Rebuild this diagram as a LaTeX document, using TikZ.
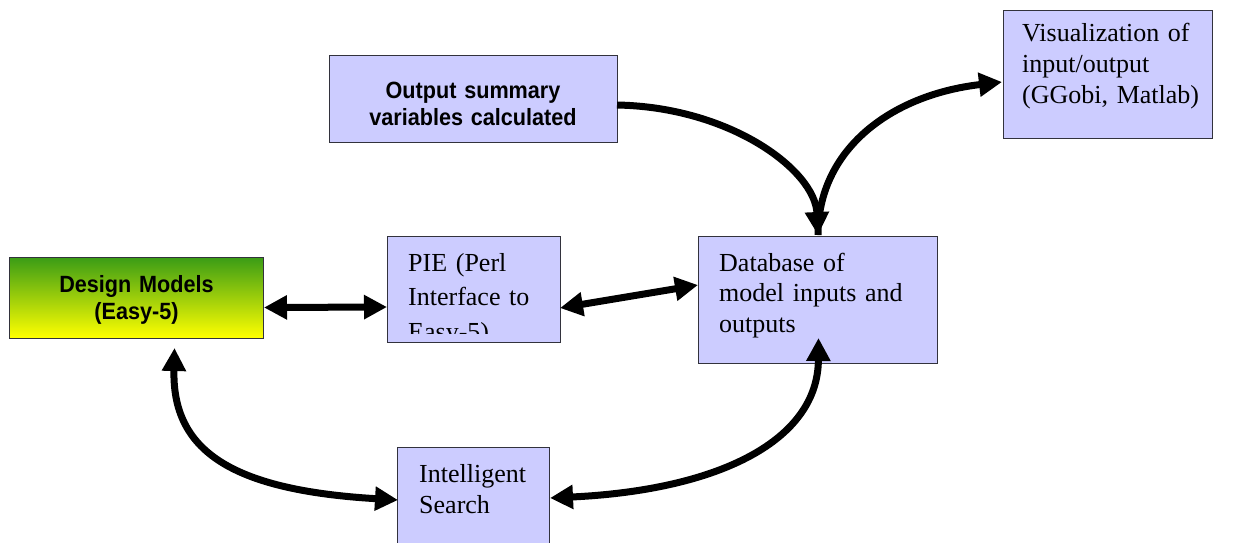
\documentclass[tikz,border=0pt]{standalone}
\usepackage{fontspec}
\setmainfont{Liberation Serif}
\newfontfamily\labsans[FakeStretch=0.92]{Liberation Sans}
\usetikzlibrary{arrows.meta}
\definecolor{boxfill}{RGB}{204,204,255}
\definecolor{boxline}{RGB}{50,50,60}
\definecolor{dmtop}{RGB}{58,156,22}
\definecolor{dmmid}{RGB}{190,218,0}
\definecolor{dmbot}{RGB}{255,255,0}
\begin{document}
\begin{tikzpicture}[x=1pt,y=-1pt,
  box/.style={rectangle,draw=boxline,line width=1pt,fill=boxfill,inner sep=0pt,outer sep=0pt,anchor=north west},
  seriftext/.style={inner sep=0pt,anchor=base west,align=left,text width=#1},
  sanstext/.style={inner sep=0pt,anchor=base,align=center,text width=250pt,font=\labsans\bfseries\fontsize{23.5}{27}\selectfont},
  >={Triangle[length=23pt,width=23pt]},
  conn/.style={line width=7pt,->},
  biconn/.style={line width=7pt,<->}]
\clip (0,0) rectangle (1246,542);
\fill[white] (0,0) rectangle (1246,542);

% boxes
\node[box,minimum width=288pt,minimum height=87pt] (outsum) at (329,55) {};
\node[sanstext] (outsumtext) at (473,98) {Output summary\\variables calculated};

\node[box,minimum width=209pt,minimum height=128pt] (vis) at (1003,10) {};
\node[seriftext=185pt,font=\fontsize{26}{31}\selectfont] (vistext) at (1022,41.5) {Visualization of\\input/output\\(GGobi, Matlab)};

\node[box,top color=dmtop,middle color=dmmid,bottom color=dmbot,minimum width=254pt,minimum height=81pt] (dm) at (9,257) {};
\node[sanstext] (dmtext) at (136.5,292) {Design Models\\(Easy-5)};

\node[box,minimum width=173pt,minimum height=106pt] (pie) at (387,236) {};
\begin{scope}
  \clip (pie.north west) rectangle ([yshift=9pt]pie.south east);
  \node[seriftext=150pt,font=\fontsize{26}{34.5}\selectfont] (pietext) at (408,271) {PIE (Perl\\Interface to\\Easy-5)};
\end{scope}

\node[box,minimum width=239pt,minimum height=127pt] (db) at (698,236) {};
\node[seriftext=210pt,font=\fontsize{26}{30.5}\selectfont] (dbtext) at (719,271) {Database of\\model inputs and\\outputs};

\node[box,minimum width=152pt,minimum height=130pt] (is) at (397,447) {};
\node[seriftext=125pt,font=\fontsize{26}{31}\selectfont] (istext) at (419,482) {Intelligent\\Search};

% anchor points for connectors
\coordinate (dmR) at (264,307.5);
\coordinate (pieL) at (387,307);
\coordinate (pieR) at (560,308);
\coordinate (dbL) at (698,285);
\coordinate (outR) at (617,105);
\coordinate (dbT) at (818,235);
\coordinate (visL) at (1002,82);
\coordinate (dmB) at (174.5,348);
\coordinate (isL) at (398,500);
\coordinate (isR) at (550,498);
\coordinate (dbB) at (818.5,338);

% connectors
\draw[biconn] (dmR) -- (pieL);
\draw[biconn] (pieR) -- (dbL);
\draw[conn] (outR) .. controls (730,107) and (815,170) .. (dbT);
\draw[conn] (dbT) .. controls (818,150) and (890,95) .. (visL);
\draw[biconn] (dmB) .. controls (172,450) and (230,490) .. (isL);
\draw[biconn] (isR) .. controls (720,490) and (818,440) .. (dbB);
\end{tikzpicture}
\end{document}
